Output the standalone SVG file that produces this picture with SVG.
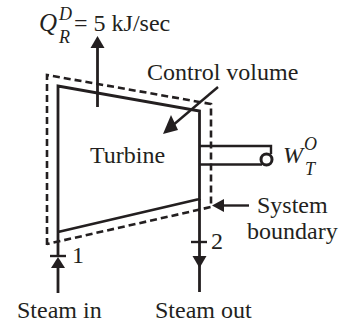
<svg xmlns="http://www.w3.org/2000/svg" width="341" height="325" viewBox="0 0 341 325">
<style>
.l{fill:none;stroke:#231f20;stroke-width:2.800}
.t{stroke-width:2.400}
.d{fill:none;stroke:#231f20;stroke-width:2.600;stroke-dasharray:7 4}
.h{fill:#231f20}
text{font-family:"Liberation Serif","Times New Roman",serif;font-size:24px;fill:#231f20}
.i{font-style:italic}
.s{font-size:18px}
</style>
<g id="connectors">
<path class="l" d="M97.500 107V47"/><path class="h" d="M97.500 36L104.500 48H90.500Z"/>
<path class="l t" d="M218 87L172 126"/><path class="h" d="M163 134L171 115L178 130Z"/>
<path class="l t" d="M249 205.500H222"/><path class="h" d="M212 205.500L224 199V212Z"/>
<path class="l" d="M58 293V262"/><path class="h" d="M58 257L65 268H51Z"/>
<path class="l t" d="M50 256H66"/>
<path class="l" d="M199.500 199V292"/><path class="h" d="M199.500 268L192.500 256H206.500Z"/>
<path class="l t" d="M191 242H207"/>
</g>
<g id="control-volume"><path class="d" d="M47 245V75L211 104V207L47 244"/></g>
<g id="turbine"><path class="l" d="M58 256V86L199.500 111V199L58 232"/><text x="90" y="163">Turbine</text></g>
<g id="shaft"><path class="l t" d="M199.500 146H271V154M199.500 164.500H262"/><circle cx="266.500" cy="159.500" r="5.500" fill="#fff" stroke="#231f20" stroke-width="3"/></g>
<g id="labels">
<text class="i" x="39" y="31" style="font-size:25px">Q</text><text class="i s" x="59" y="20">D</text><text class="i s" x="59" y="43">R</text><text x="74" y="31">= 5 kJ/sec</text>
<text x="147" y="80">Control volume</text>
<text class="i" x="283" y="163" style="font-size:24px">W</text><text class="i s" x="304" y="150">O</text><text class="i s" x="305" y="175">T</text>
<text x="257" y="213">System</text><text x="247" y="239">boundary</text>
<text x="72" y="263">1</text><text x="211" y="249">2</text>
<text x="17" y="318">Steam in</text><text x="155" y="318">Steam out</text>
</g>
</svg>
